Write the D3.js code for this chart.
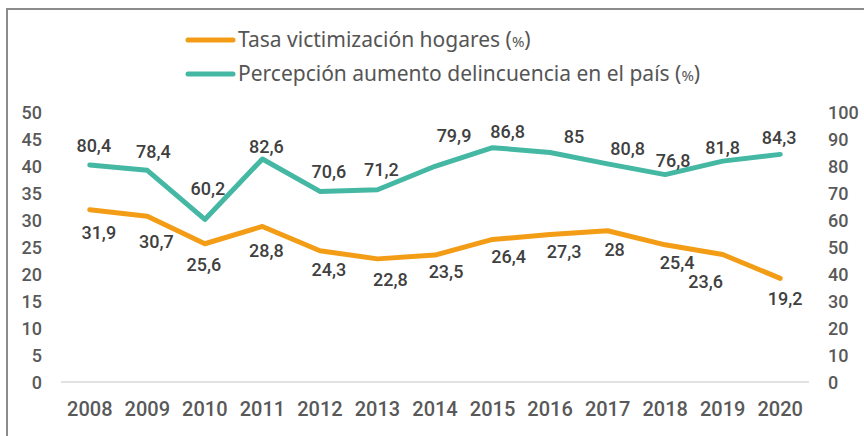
<!DOCTYPE html>
<html>
<head>
<meta charset="utf-8">
<script src="https://cdn.jsdelivr.net/npm/d3@7"></script>
<style>
  html, body { margin: 0; padding: 0; background: #fff; }
  svg { display: block; }
</style>
</head>
<body>
<svg id="chart" width="864" height="436"></svg>
<script>
// ---- Data ----
const years = ["2008","2009","2010","2011","2012","2013","2014","2015","2016","2017","2018","2019","2020"];
const victimizacion = [31.9, 30.7, 25.6, 28.8, 24.3, 22.8, 23.5, 26.4, 27.3, 28, 25.4, 23.6, 19.2];
const percepcion = [80.4, 78.4, 60.2, 82.6, 70.6, 71.2, 79.9, 86.8, 85, 80.8, 76.8, 81.8, 84.3];
const leftTicks = [0, 5, 10, 15, 20, 25, 30, 35, 40, 45, 50];
const rightTicks = [0, 10, 20, 30, 40, 50, 60, 70, 80, 90, 100];
const seriesNames = ["Tasa victimización hogares", "Percepción aumento delincuencia en el país"];

// ---- Label placement (layout, as moved manually in the source) ----
const victLabelOffset = [[9,23],[9,25],[-1,21],[4,24],[9,19],[13,21],[11,17],[16,17],[14,17],[7,19],[12,18],[-17,27],[5,20]];
const percLabelOffset = [[4,-19],[6,-19],[3,-31],[4,-12],[9,-20],[4,-20],[19,-31],[15,-16],[24,-16],[20,-15],[8,-14],[0,-13],[-1,-17]];

const orange = "#F39C16";
const teal = "#45B8A4";
const numFont = "Roboto, 'DejaVu Sans', sans-serif";
const legFont = "'Noto Sans', 'Open Sans', sans-serif";

const svg = d3.select("#chart");

// frame border
svg.append("path")
  .attr("d", "M7,437 L7,9 L866,9")
  .attr("fill", "none").attr("stroke", "#8c8c8c").attr("stroke-width", 2);

const x = d3.scaleBand().domain(years).range([61, 809]);
const yL = d3.scaleLinear().domain([0, 50]).range([382, 112]);
const yR = d3.scaleLinear().domain([0, 100]).range([382, 112]);
const cx = d => x(d) + x.bandwidth() / 2;

// baseline
svg.append("line")
  .attr("x1", x.range()[0]).attr("x2", x.range()[1])
  .attr("y1", yL(0)).attr("y2", yL(0))
  .attr("stroke", "#d9d9d9").attr("stroke-width", 1.3);

// left axis
const axL = svg.append("g").attr("transform", "translate(42,0)")
  .call(d3.axisLeft(yL).tickValues(leftTicks).tickSize(0).tickPadding(0));
axL.select(".domain").remove();
axL.selectAll("text").attr("font-family", numFont).attr("font-size", 18).attr("font-weight", 500).attr("fill", "#595959").attr("dy", "0.35em");

// right axis
const axR = svg.append("g").attr("transform", "translate(828,0)")
  .call(d3.axisRight(yR).tickValues(rightTicks).tickSize(0).tickPadding(0));
axR.select(".domain").remove();
axR.selectAll("text").attr("font-family", numFont).attr("font-size", 18).attr("font-weight", 500).attr("fill", "#595959").attr("dy", "0.35em");

// x axis
const axX = svg.append("g").attr("transform", "translate(0,402)")
  .call(d3.axisBottom(x).tickSize(0).tickPadding(0));
axX.select(".domain").remove();
axX.selectAll("text").attr("font-family", numFont).attr("font-size", 20).attr("font-weight", 500).attr("fill", "#595959").attr("dy", "0.72em");

// lines
const lineL = d3.line().x((d, i) => cx(years[i])).y(d => yL(d));
const lineR = d3.line().x((d, i) => cx(years[i])).y(d => yR(d));

svg.append("path").datum(percepcion).attr("d", lineR)
  .attr("fill", "none").attr("stroke", teal).attr("stroke-width", 5).attr("stroke-linejoin", "round").attr("stroke-linecap", "round");
svg.append("path").datum(victimizacion).attr("d", lineL)
  .attr("fill", "none").attr("stroke", orange).attr("stroke-width", 5).attr("stroke-linejoin", "round").attr("stroke-linecap", "round");

const fmt = v => String(v).replace(".", ",");

svg.append("g").selectAll("text").data(percepcion).join("text")
  .attr("x", (d, i) => cx(years[i]) + percLabelOffset[i][0])
  .attr("y", (d, i) => yR(d) + percLabelOffset[i][1])
  .attr("dy", "0.35em").attr("text-anchor", "middle")
  .attr("font-family", numFont).attr("font-size", 18).attr("font-weight", 500).attr("fill", "#404040")
  .text(fmt);

svg.append("g").selectAll("text").data(victimizacion).join("text")
  .attr("x", (d, i) => cx(years[i]) + victLabelOffset[i][0])
  .attr("y", (d, i) => yL(d) + victLabelOffset[i][1])
  .attr("dy", "0.35em").attr("text-anchor", "middle")
  .attr("font-family", numFont).attr("font-size", 18).attr("font-weight", 500).attr("fill", "#404040")
  .text(fmt);

// legend
const legColors = [orange, teal];
const leg = svg.append("g");
seriesNames.forEach((name, i) => {
  const ly = 40 + i * 34;
  leg.append("line").attr("x1", 188).attr("x2", 233).attr("y1", ly).attr("y2", ly)
    .attr("stroke", legColors[i]).attr("stroke-width", 5).attr("stroke-linecap", "round");
  const t = leg.append("text").attr("x", 238).attr("y", ly).attr("dy", "0.35em")
    .attr("font-family", legFont).attr("font-size", 21).attr("fill", "#555555");
  t.append("tspan").text(name + " (");
  t.append("tspan").attr("font-size", 15).text("%");
  t.append("tspan").text(")");
});
</script>
</body>
</html>
